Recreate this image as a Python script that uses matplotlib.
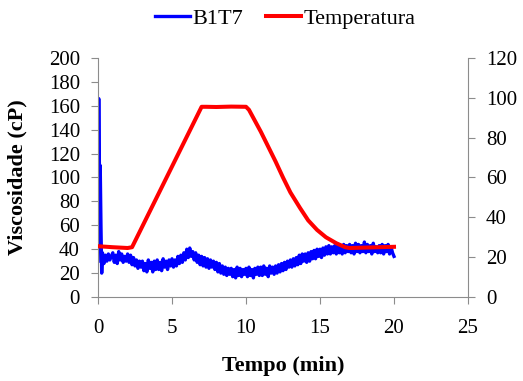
import numpy as np
import matplotlib
matplotlib.use("Agg")
import matplotlib.pyplot as plt

plt.rcParams['font.family'] = ['Liberation Serif', 'DejaVu Serif']

# Viscosity spike at start
spike_t = [0.0, 0.05, 0.08, 0.12, 0.15, 0.2, 0.25]
spike_v = [30, 166, 120, 95, 110, 60, 20]
# Viscosity samples every 0.1 min from 0.3 to 20.0
visc_values = [
    37, 28, 35, 30, 36, 31, 34,
    37, 29, 35, 28, 38, 31, 36, 29, 34, 30,
    36, 29, 35, 27, 33, 26, 31, 24, 30, 25,
    30, 22, 28, 21, 31, 24, 29, 21, 30, 23,
    31, 23, 29, 22, 32, 25, 30, 23, 31, 26,
    32, 25, 31, 26, 34, 28, 35, 29, 37, 31,
    40, 33, 41, 34, 38, 31, 37, 29, 35, 27,
    34, 26, 33, 25, 32, 24, 31, 25, 30, 23,
    29, 21, 28, 20, 26, 19, 25, 18, 24, 19,
    24, 17, 23, 16, 25, 18, 24, 17, 23, 19,
    24, 17, 25, 18, 23, 16, 24, 19, 25, 18,
    25, 18, 26, 19, 24, 17, 26, 20, 25, 19,
    26, 20, 27, 21, 28, 22, 29, 23, 30, 25,
    31, 25, 32, 26, 33, 27, 35, 28, 36, 30,
    36, 29, 37, 30, 38, 32, 39, 32, 40, 34,
    40, 33, 41, 35, 42, 36, 43, 36, 42, 37,
    43, 36, 44, 37, 42, 36, 44, 37, 43, 38,
    44, 37, 43, 36, 45, 38, 44, 37, 43, 38,
    46, 37, 44, 38, 43, 36, 45, 38, 42, 37,
    43, 37, 44, 36, 43, 38, 44, 36, 42, 37,
    34,
]
visc_grid_t = np.round(np.arange(3, 201) / 10.0, 1)
visc_t = list(spike_t) + list(visc_grid_t)
visc_v = list(spike_v) + visc_values

# Temperature
temp_t = [0.0, 1.0, 2.0, 2.3, 7.0, 7.3, 8.0, 9.0, 10.0, 10.2, 11.0, 11.4, 12.0,
          12.5, 13.0, 13.65, 14.2, 14.8, 15.4, 16.1, 16.7, 17.0, 18.0, 19.0, 20.0]
temp_v = [25.5, 25.0, 24.6, 25.0, 95.5, 95.5, 95.4, 95.6, 95.5, 94.0, 83.0, 77.0, 68.0,
          60.0, 52.5, 44.7, 38.5, 33.7, 30.0, 27.0, 25.0, 24.6, 24.8, 25.0, 25.2]

x_ticks = [0, 5, 10, 15, 20, 25]
y_ticks = [0, 20, 40, 60, 80, 100, 120, 140, 160, 180, 200]
y2_ticks = [0, 20, 40, 60, 80, 100, 120]

fig = plt.figure(figsize=(5.23, 3.81), dpi=100)
ax = fig.add_axes([98/523, 1-297/381, (468-98)/523, (297-58)/381])
ax2 = ax.twinx()

l1, = ax.plot(visc_t, visc_v, color='#0000FF', lw=2.4, label='B1T7', solid_joinstyle='round')
l2, = ax2.plot(temp_t, temp_v, color='#FF0000', lw=2.9, label='Temperatura')

ax.set_xlim(0, 25)
ax.set_ylim(0, 200)
ax2.set_ylim(0, 120)
ax.set_xticks(x_ticks)
ax.set_yticks(y_ticks)
ax2.set_yticks(y2_ticks)

gray = '#8C8C8C'
for a in (ax, ax2):
    a.spines['top'].set_visible(False)
    for s in ('left', 'right', 'bottom'):
        a.spines[s].set_color(gray)
    a.tick_params(colors=gray, labelcolor='black', labelsize=15, length=5, width=0.8,
                  direction='out', pad=8)
ax.spines['right'].set_visible(False)
ax2.spines['left'].set_visible(False)
ax2.spines['bottom'].set_visible(False)
ax.tick_params(axis='x', pad=11)

ax.set_xlabel('Tempo (min)', fontsize=16, fontweight='bold')
ax.set_ylabel('Viscosidade (cP)', fontsize=16, fontweight='bold')
ax.xaxis.set_label_coords(0.5, -0.245)
ax.yaxis.set_label_coords(-0.19, 0.5)

fig.legend(handles=[l1, l2], loc='center', bbox_to_anchor=(0.545, 0.952), ncol=2,
           frameon=False, fontsize=16, handlelength=1.6, handletextpad=0.1, columnspacing=1.0)

fig.savefig('out.png', dpi=100)
